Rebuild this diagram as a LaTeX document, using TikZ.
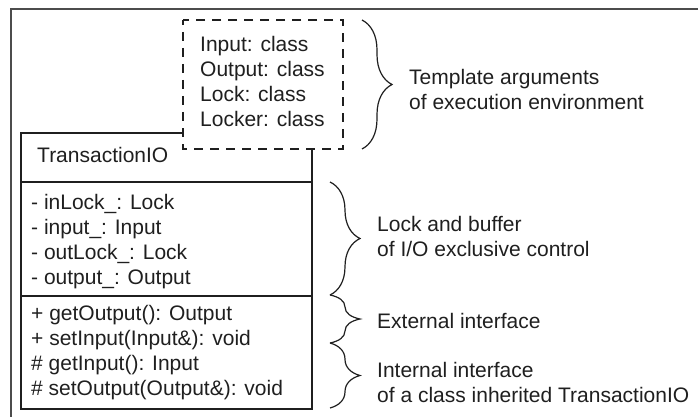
\documentclass[tikz,border=0pt]{standalone}
\usepackage{fontspec}
\setmainfont{Liberation Sans}
\usetikzlibrary{decorations.pathreplacing}
\begin{document}
\begin{tikzpicture}[x=1pt,y=-1pt,
  ink/.style={draw=black!88, line width=1.3pt},
  % multi-line texts are placed by the baseline of their last line
  txt/.style={anchor=base west, inner sep=0pt, align=left,
    font=\fontsize{21}{25}\selectfont, text=black!88},
  curly/.style={draw=black!88, line width=1.2pt, decorate,
    decoration={brace, amplitude=30pt}}]
  \useasboundingbox (0,0) rectangle (698,417);
  % outer frame (top and left edges)
  \draw[draw=black!70, line width=1.2pt] (698,9) -- (11,9) -- (11,417);
  % class box with its three compartments
  \draw[ink] (21,133) rectangle (312,409);
  \draw[ink] (21,182) -- (312,182);
  \draw[ink] (21,296) -- (312,296);
  % template parameter box over the top-right corner
  \draw[ink, fill=white, dash pattern=on 9pt off 7pt, dash phase=4pt]
    (183,20) rectangle (343,149);
  % texts
  \node[txt] (params) at (200,127) {Input: class\\Output: class\\Lock: class\\Locker: class};
  \node[txt] (name) at (37,162) {TransactionIO};
  \node[txt] (attrs) at (31,284) {- inLock\_: Lock\\- input\_: Input\\- outLock\_: Lock\\- output\_: Output};
  \node[txt] (ops) at (31,395) {+ getOutput(): Output\\+ setInput(Input\&): void\\\# getInput(): Input\\\# setOutput(Output\&): void};
  % braces and their notes
  \coordinate (b1t) at (362,20);  \coordinate (b1b) at (362,149);
  \coordinate (b2t) at (330,182); \coordinate (b2b) at (330,295);
  \coordinate (b3t) at (330,295); \coordinate (b3b) at (330,343);
  \coordinate (b4t) at (330,343); \coordinate (b4b) at (330,408);
  \draw[curly] (b1t) -- (b1b);
  \draw[curly] (b2t) -- (b2b);
  \draw[curly] (b3t) -- (b3b);
  \draw[curly] (b4t) -- (b4b);
  \node[txt] (n1) at (409,110) {Template arguments\\of execution environment};
  \node[txt] (n2) at (377,256) {Lock and buffer\\of I/O exclusive control};
  \node[txt] (n3) at (377,328) {External interface};
  \node[txt] (n4) at (377,402) {Internal interface\\of a class inherited TransactionIO};
\end{tikzpicture}
\end{document}
